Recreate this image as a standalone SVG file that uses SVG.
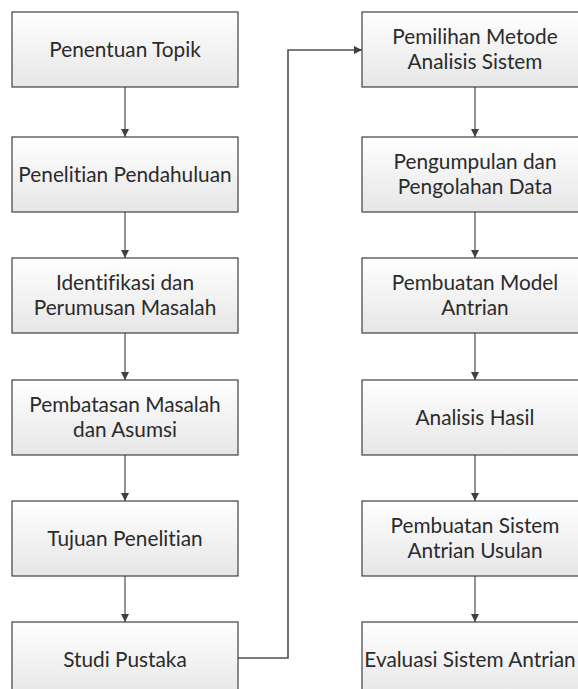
<svg xmlns="http://www.w3.org/2000/svg" width="578" height="689" viewBox="0 0 578 689">
<defs>
<linearGradient id="g" x1="0" y1="0" x2="0" y2="1">
<stop offset="0" stop-color="#ffffff"/>
<stop offset="1" stop-color="#e6e6e6"/>
</linearGradient>
<marker id="ah" viewBox="0 0 10 10" refX="10" refY="5" markerWidth="8" markerHeight="8" markerUnits="userSpaceOnUse" orient="auto">
<path d="M0,0 L10,5 L0,10 z" fill="#404040"/>
</marker>
</defs>
<style>
.box{fill:url(#g);stroke:#404040;stroke-width:1.2}
.t{font-family:Lato,"Liberation Sans",sans-serif;font-size:20.8px;fill:#2b2b2b;text-anchor:middle;font-variant-ligatures:none}
.c{fill:none;stroke:#7a7a7a;stroke-width:1.6;marker-end:url(#ah)}
</style>
<rect width="578" height="689" fill="#ffffff"/>
<g id="connectors">
<line class="c" x1="125" y1="87" x2="125" y2="137"/>
<line class="c" x1="125" y1="212" x2="125" y2="258"/>
<line class="c" x1="125" y1="333" x2="125" y2="380"/>
<line class="c" x1="125" y1="455" x2="125" y2="501"/>
<line class="c" x1="125" y1="576" x2="125" y2="622"/>
<line class="c" x1="475" y1="87" x2="475" y2="137"/>
<line class="c" x1="475" y1="212" x2="475" y2="258"/>
<line class="c" x1="475" y1="333" x2="475" y2="380"/>
<line class="c" x1="475" y1="455" x2="475" y2="501"/>
<line class="c" x1="475" y1="576" x2="475" y2="622"/>
<polyline class="c" points="238,658 288,658 288,50 362,50" style="stroke:#505050"/>
</g>
<g id="n1"><rect class="box" x="12" y="12" width="226" height="75"/><text class="t" x="125" y="57">Penentuan Topik</text></g>
<g id="n2"><rect class="box" x="12" y="137" width="226" height="75"/><text class="t" x="125" y="182">Penelitian Pendahuluan</text></g>
<g id="n3"><rect class="box" x="12" y="258" width="226" height="75"/><text class="t" x="125" y="290">Identifikasi dan</text><text class="t" x="125" y="315">Perumusan Masalah</text></g>
<g id="n4"><rect class="box" x="12" y="380" width="226" height="75"/><text class="t" x="125" y="412">Pembatasan Masalah</text><text class="t" x="125" y="437">dan Asumsi</text></g>
<g id="n5"><rect class="box" x="12" y="501" width="226" height="75"/><text class="t" x="125" y="546">Tujuan Penelitian</text></g>
<g id="n6"><rect class="box" x="12" y="622" width="226" height="75"/><text class="t" x="125" y="667">Studi Pustaka</text></g>
<g id="n7"><rect class="box" x="362" y="12" width="226" height="75"/><text class="t" x="475" y="44">Pemilihan Metode</text><text class="t" x="475" y="69">Analisis Sistem</text></g>
<g id="n8"><rect class="box" x="362" y="137" width="226" height="75"/><text class="t" x="475" y="169">Pengumpulan dan</text><text class="t" x="475" y="194">Pengolahan Data</text></g>
<g id="n9"><rect class="box" x="362" y="258" width="226" height="75"/><text class="t" x="475" y="290">Pembuatan Model</text><text class="t" x="475" y="315">Antrian</text></g>
<g id="n10"><rect class="box" x="362" y="380" width="226" height="75"/><text class="t" x="475" y="425">Analisis Hasil</text></g>
<g id="n11"><rect class="box" x="362" y="501" width="226" height="75"/><text class="t" x="475" y="533">Pembuatan Sistem</text><text class="t" x="475" y="558">Antrian Usulan</text></g>
<g id="n12"><rect class="box" x="362" y="622" width="226" height="75"/><text class="t" x="470" y="667">Evaluasi Sistem Antrian</text></g>
</svg>
